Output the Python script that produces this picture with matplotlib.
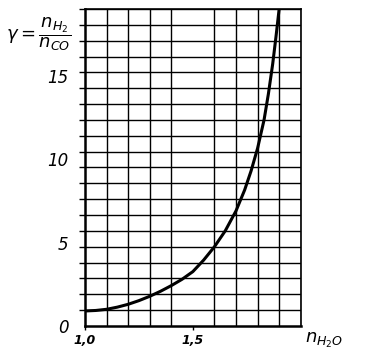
import matplotlib

matplotlib.use("Agg")
import matplotlib.pyplot as plt
import numpy as np

# n_H2O по оси x, gamma = n_H2 / n_CO по оси y
n_h2o = [1.0, 1.05, 1.1, 1.15, 1.2, 1.25, 1.3, 1.35, 1.4, 1.45, 1.5, 1.55,
         1.6, 1.65, 1.7, 1.74, 1.77, 1.8, 1.83, 1.85, 1.87, 1.885, 1.9]
gamma = [0.9, 0.93, 1.0, 1.13, 1.3, 1.52, 1.78, 2.08, 2.42, 2.8, 3.26, 3.95,
         4.75, 5.7, 6.9, 8.15, 9.3, 10.65, 12.35, 13.9, 15.7, 17.3, 19.0]

x_ticks = [1.0, 1.5]
x_labels = ["1,0", "1,5"]
y_ticks = [0, 5, 10, 15]
y_labels = ["0", "5", "10", "15"]

fig = plt.figure(figsize=(3.67, 3.56), dpi=100)
ax = fig.add_axes([0.2316, 0.0843, 0.5878, 0.8904])

ax.plot(n_h2o, gamma, color="black", linewidth=2.2, solid_capstyle="butt",
        solid_joinstyle="round")

ax.set_xlim(1.0, 2.0)
ax.set_ylim(0, 19)

# сетка миллиметровки: 10 клеток по x, 20 по y
ax.set_xticks(np.linspace(1.0, 2.0, 11), minor=True)
ax.set_yticks(np.linspace(0, 19, 21), minor=True)
ax.grid(True, which="minor", color="black", linewidth=1.0)

ax.set_xticks(x_ticks)
ax.set_xticklabels(x_labels, fontsize=9, fontweight="bold", fontstyle="italic")
ax.set_yticks(y_ticks)
ax.set_yticklabels(y_labels, fontsize=12, fontstyle="italic")

ax.tick_params(axis="y", which="minor", length=4, width=1.0, direction="out")
ax.tick_params(axis="y", which="major", length=0, pad=12)
ax.tick_params(axis="x", which="minor", length=0)
ax.tick_params(axis="x", which="major", length=3, width=1.0, pad=3)

for side in ("top", "right"):
    ax.spines[side].set_linewidth(1.2)
for side in ("left", "bottom"):
    ax.spines[side].set_linewidth(1.8)

fig.text(0.105, 0.905, r"$\gamma=\dfrac{n_{H_2}}{n_{CO}}$", fontsize=13,
         ha="center", va="center")
ax.text(1.02, -0.045, r"$n_{H_2O}$", transform=ax.transAxes, fontsize=13,
        ha="left", va="center")

fig.savefig("out.png", dpi=100)
plt.close(fig)
